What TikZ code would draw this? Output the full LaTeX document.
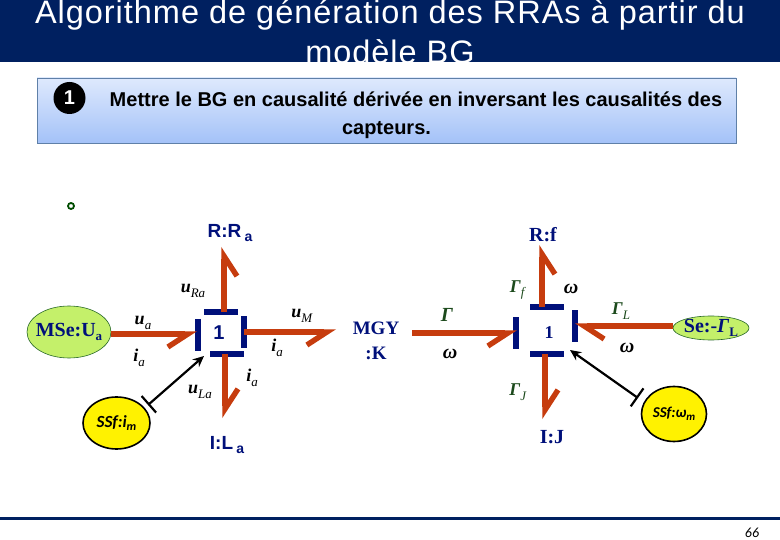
\documentclass[tikz,border=0pt]{standalone}
\usepackage{fontspec}
\setmainfont{Liberation Serif}
\setsansfont{Liberation Sans}
\newfontfamily\handfont{Carlito}
\usetikzlibrary{arrows.meta,shapes.geometric}

\definecolor{titleblue}{HTML}{002060}
\definecolor{labelblue}{HTML}{00107A}
\definecolor{bondred}{HTML}{C63C0E}
\definecolor{gammagreen}{HTML}{1C4A1C}
\definecolor{boxtop}{HTML}{DEE9FD}
\definecolor{boxbottom}{HTML}{A4C2F8}
\definecolor{boxedge}{HTML}{5F80A8}
\definecolor{sourcefill}{HTML}{C4F06A}
\definecolor{sourceedge}{HTML}{2A6A2A}

\newcommand{\sized}[1]{\fontsize{#1}{#1}\selectfont}
\newcommand{\lbl}[2]{\sized{18}\textbf{\textit{#1}}\raisebox{-0.25em}{\sized{13}\textit{#2}}}

\begin{document}
\begin{tikzpicture}[
    x=1pt, y=-1pt,
    bond/.style={line width=5.4pt, bondred, -{Straight Barb[harpoon,swap,length=20pt,width=26pt]}},
    bondswap/.style={line width=5.4pt, bondred, -{Straight Barb[harpoon,length=20pt,width=26pt]}},
    signal/.style={line width=2.2pt, black, {Bar[width=22pt,line width=2.2pt]}-{Stealth[length=11pt,width=10pt]}},
    hbar/.style={rectangle, fill=labelblue, inner sep=0pt, minimum width=34pt, minimum height=5.5pt},
    vbar/.style={rectangle, fill=labelblue, inner sep=0pt, minimum width=5.5pt, minimum height=32pt},
    element/.style={labelblue, inner sep=0pt, font=\sized{20}\bfseries},
    sensor/.style={ellipse, draw=black, line width=1.6pt, fill=yellow, inner sep=0pt},
    source/.style={ellipse, draw=sourceedge, line width=0.6pt, fill=sourcefill, inner sep=0pt},
    var/.style={inner sep=0pt, font=\sized{16}}
]

\useasboundingbox (0,0) rectangle (780,540);

\fill[titleblue] (0,0) rectangle (780,62);
\node[text=white, align=center, inner sep=0pt, font=\sffamily\addfontfeature{LetterSpace=3}\fontsize{32.5}{40}\selectfont] (title) at (390,31.5)
    {Algorithme de génération des RRAs à partir du\\modèle BG};

\node[rectangle, draw=boxedge, top color=boxtop, bottom color=boxbottom, minimum width=699pt, minimum height=65pt, inner sep=0pt] (stepbox) at (386.5,110.5) {};
\node[circle, fill=black, text=white, minimum size=32pt, inner sep=0pt, font=\sffamily\bfseries\sized{20}] (stepnum) at (69.5,98) {1};
\node[align=center, inner sep=0pt, font=\sffamily\bfseries\fontsize{20}{28}\selectfont] (steptext) at (416,115)
    {Mettre le BG en causalité dérivée en inversant les causalités des\\capteurs.\hspace*{59pt}};
\node[circle, draw=black!70!green, line width=1.8pt, minimum size=6pt, inner sep=0pt] (dot) at (71,206) {};

\node[element, font=\sffamily\bfseries\sized{19}] (rra) at (230,233) {R:R\,\raisebox{-0.2em}{\sized{14}a}};
\node[element, font=\sffamily\bfseries\sized{19}] (ila) at (227,445) {I:L\,\raisebox{-0.2em}{\sized{14}a}};
\node[source, minimum width=84pt, minimum height=52pt] (mse) at (69,332) {};
\node[element] at (mse) {MSe:U\raisebox{-0.2em}{\sized{13}a}};
\node[sensor, minimum width=67pt, minimum height=52pt, font=\handfont\bfseries\itshape\sized{17}] (ssfi) at (116.5,423) {SSf:\textit{i}\raisebox{-0.2em}{\sized{12}m}};

\node[element, font=\sffamily\bfseries\sized{20}] (juncA) at (219,333) {1};
\node[hbar] (juncAt) at (221,312) {};
\node[hbar] (juncAb) at (227,354) {};
\node[vbar] (juncAl) at (198,335) {};
\node[vbar] (juncAr) at (244,332) {};

\coordinate (tipRa) at (224,247);
\coordinate (tipLa) at (225,418);
\coordinate (tipAl) at (197,334);
\coordinate (tipM) at (336,332);
\coordinate (footRa) at (224,312);
\coordinate (footLa) at (225,354);
\coordinate (tipAs) at (204,356);

\draw[bond] (footRa) -- (tipRa);
\draw[bondswap] (footLa) -- (tipLa);
\draw[bond] (mse.east |- tipAl) -- (tipAl);
\draw[bond] (juncAr.center) -- (tipM);
\coordinate (tailAs) at (148,405);
\draw[signal] (tailAs) -- (tipAs);

\node[var] (uRa) at (193,291) {\lbl{u}{Ra}};
\node[var] (ua) at (143,323) {\lbl{u}{a}};
\node[var] (ia) at (139,358) {\lbl{i}{a}};
\node[var] (uM) at (302,316) {\lbl{u}{M}};
\node[var] (iaM) at (277,348) {\lbl{i}{a}};
\node[var] (iaL) at (252,378) {\lbl{i}{a}};
\node[var] (uLa) at (200,392) {\lbl{u}{La}};

\node[element, align=center, font=\bfseries\fontsize{19}{25}\selectfont] (mgy) at (376,341) {MGY\\:K};
\node[element] (rf) at (543,235) {R:f};
\node[element] (ij) at (552,437) {I:J};
\node[source, minimum width=76pt, minimum height=24pt] (se) at (711,328) {};
\node[element] at (se) {Se:-\textit{Γ}\raisebox{-0.2em}{\sized{13}L}};
\node[sensor, minimum width=65pt, minimum height=55pt, font=\handfont\bfseries\itshape\sized{15}] (ssfw) at (674,414) {SSf:\textit{ω}\raisebox{-0.2em}{\sized{11}m}};

\node[element, font=\bfseries\sized{18}] (juncB) at (549,333) {1};
\node[hbar] (juncBt) at (547,307) {};
\node[hbar] (juncBb) at (547,354) {};
\node[vbar] (juncBl) at (516,333.5) {};
\node[vbar] (juncBr) at (575,326.5) {};

\coordinate (tipF) at (542,245);
\coordinate (tipJ) at (545,419);
\coordinate (tipBl) at (517,333);
\coordinate (tipL) at (575,326);
\coordinate (footF) at (542,307);
\coordinate (footJ) at (545,354);
\coordinate (tailK) at (412,333);
\coordinate (tailBs) at (638,398);
\coordinate (tipBs) at (570,350);

\draw[bond] (footF) -- (tipF);
\draw[bondswap] (footJ) -- (tipJ);
\draw[bond] (tailK) -- (tipBl);
\draw[bondswap] (se.west |- tipL) -- (tipL);
\draw[signal] (tailBs) -- (tipBs);

\node[var, text=gammagreen] (gamF) at (518,290) {\lbl{Γ}{f}};
\node[var, font=\sized{20}] (omF) at (571,289) {\textbf{\textit{ω}}};
\node[var, text=gammagreen] (gamL) at (621,311) {\lbl{Γ}{L}};
\node[var, text=gammagreen, font=\sized{20}] (gam) at (447,315) {\textbf{\textit{Γ}}};
\node[var, font=\sized{20}] (omK) at (450,354) {\textbf{\textit{ω}}};
\node[var, font=\sized{20}] (omL) at (627,348) {\textbf{\textit{ω}}};
\node[var, text=gammagreen] (gamJ) at (518,392) {\lbl{Γ}{J}};

\fill[titleblue] (0,516.5) rectangle (780,519.5);
\node[inner sep=0pt, font=\handfont\itshape\sized{14}] (page) at (752,533) {66};

\end{tikzpicture}
\end{document}
